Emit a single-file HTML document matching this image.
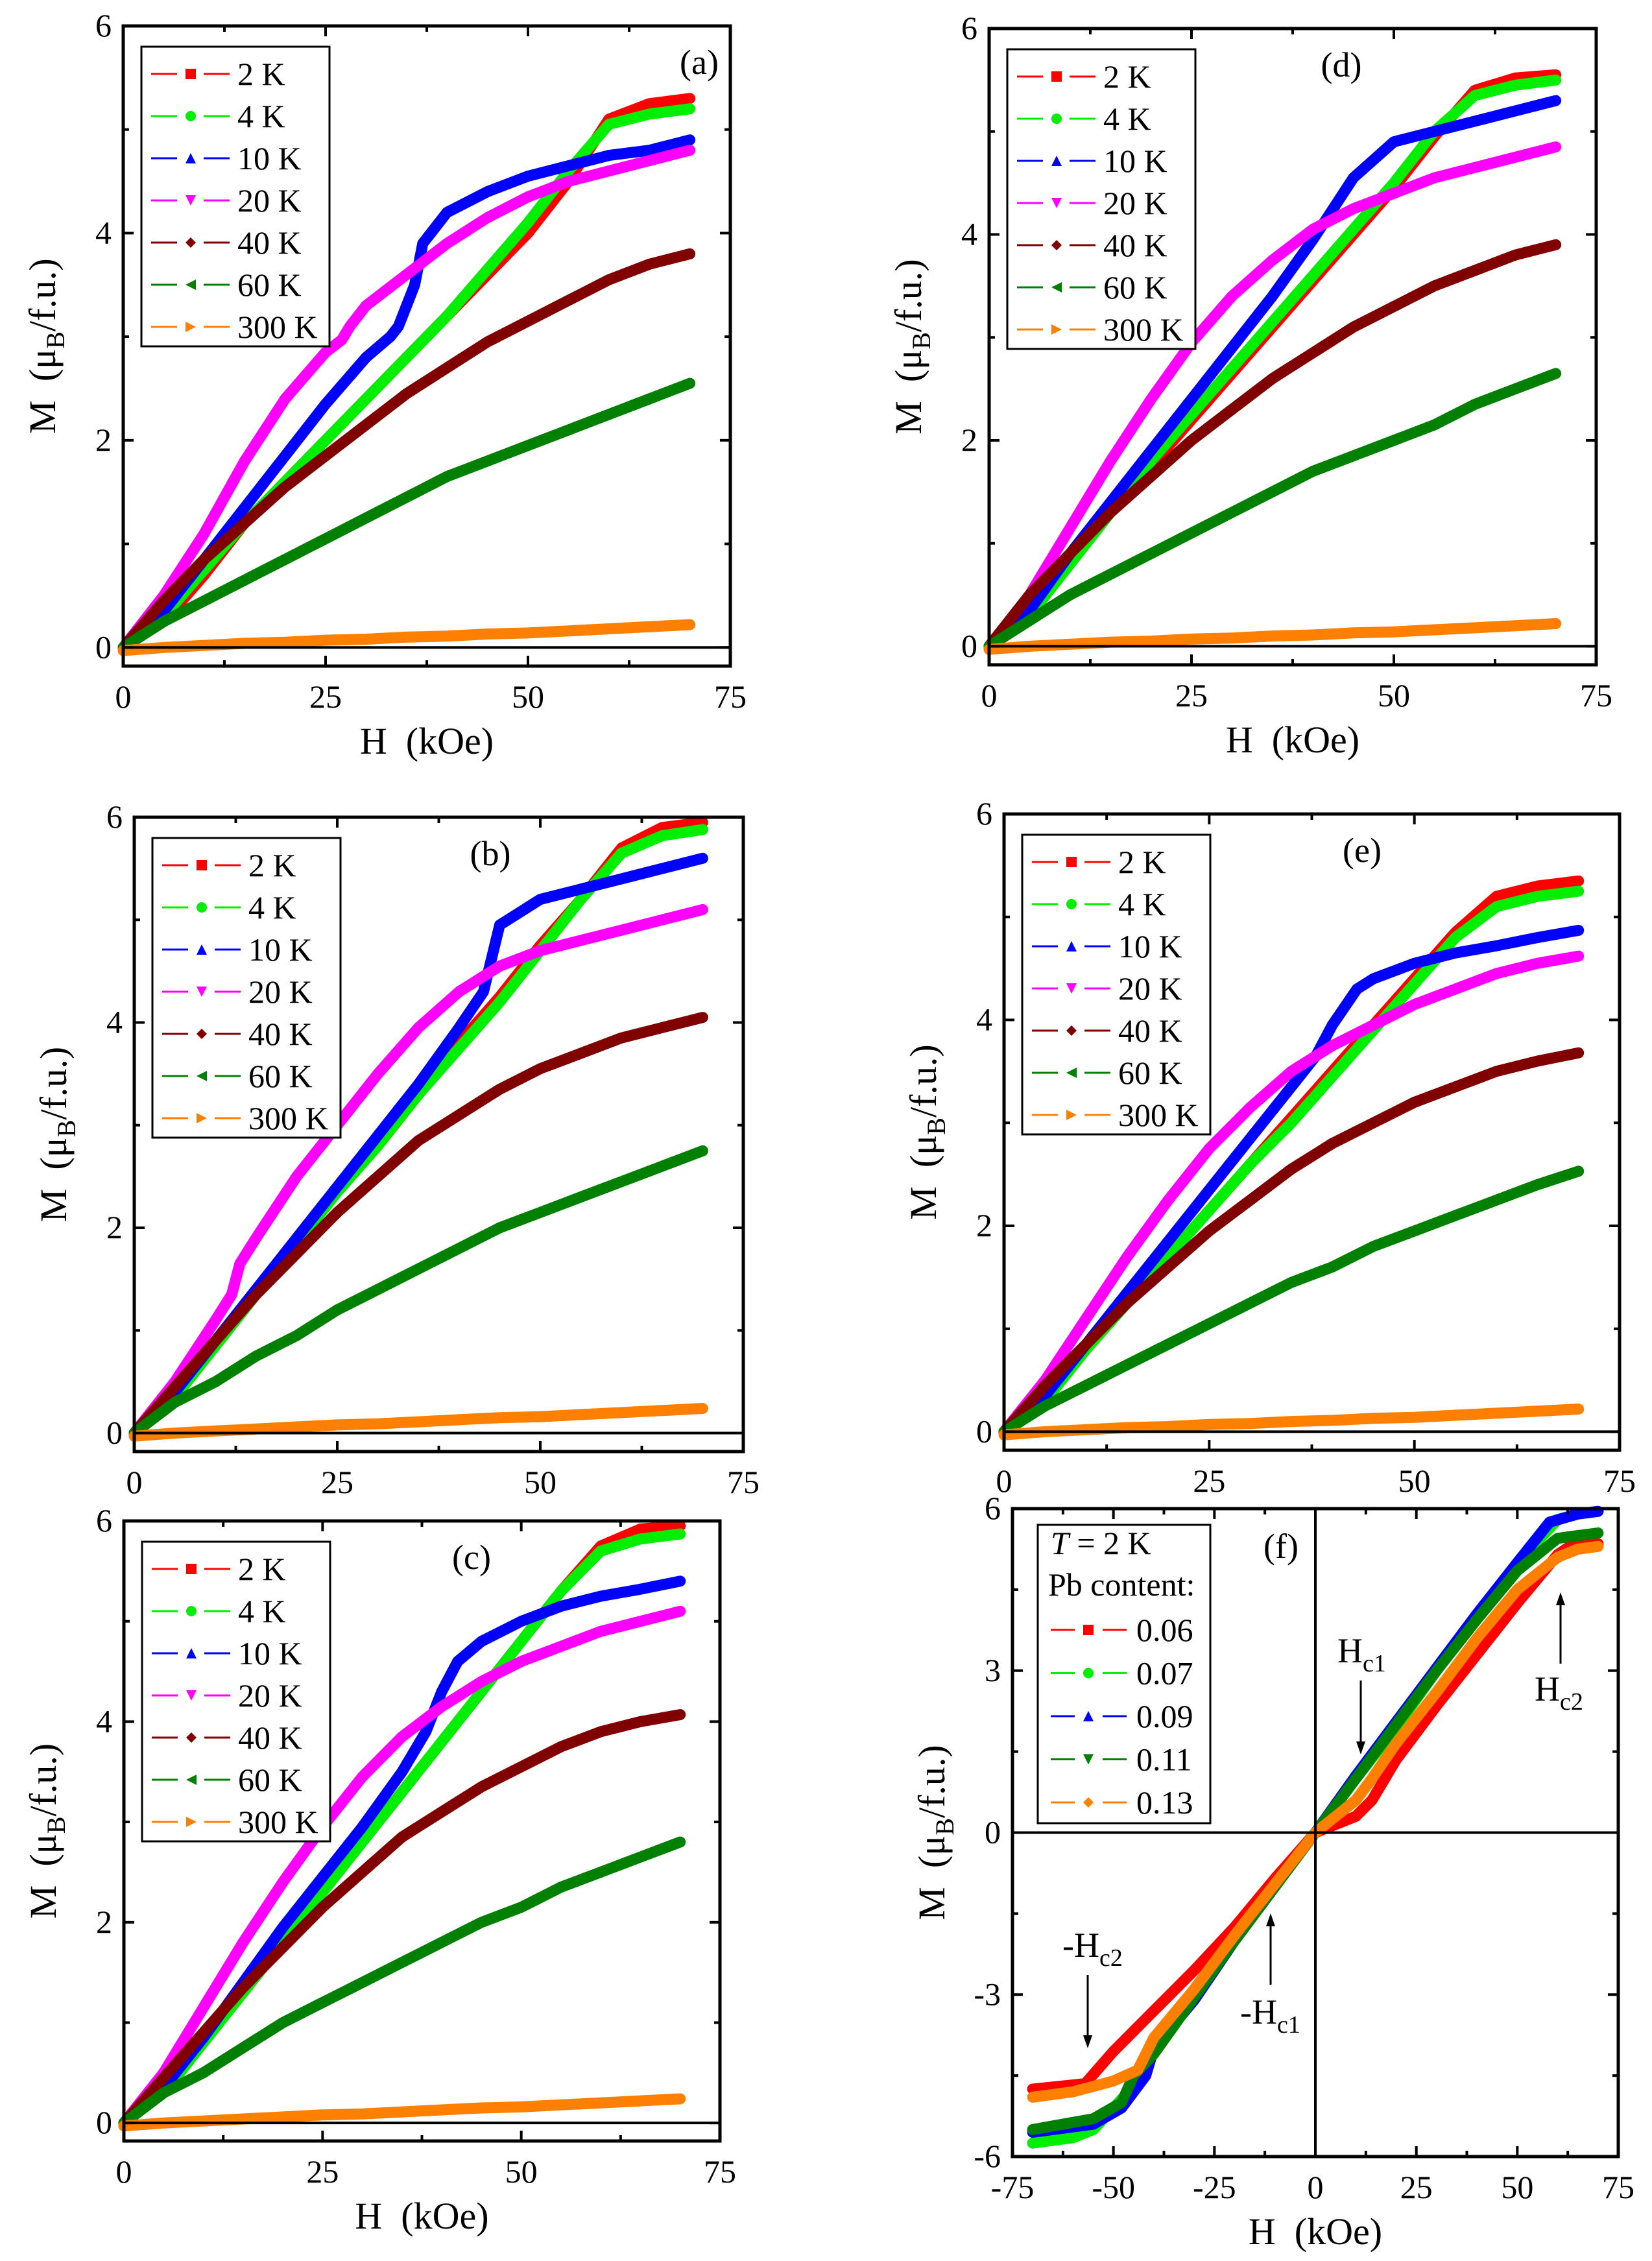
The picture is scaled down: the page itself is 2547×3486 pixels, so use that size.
<!DOCTYPE html>
<html><head><meta charset="utf-8">
<style>
html,body{margin:0;padding:0;background:#fff;}
svg{display:block;}
text{font-family:"Liberation Serif",serif;fill:#000;}
</style></head>
<body>
<svg id="fig" width="2547" height="3486" viewBox="0 0 2547 3486" xmlns="http://www.w3.org/2000/svg">
<rect x="0" y="0" width="2547" height="3486" fill="#fff"/>
</svg>
<script>
// ---------------- data ----------------
const H5 = [0,5,10,15,20,25,30,35,40,45,50,55,60,65,70];
const tempLabels = ["2 K","4 K","10 K","20 K","40 K","60 K","300 K"];
const pbLabels = ["0.06","0.07","0.09","0.11","0.13"];
const yTicksA = [0,2,4,6];
const xTicksA = [0,25,50,75];
const yTicksF = [-6,-3,0,3,6];
const xTicksF = [-75,-50,-25,0,25,50,75];

// panel (a)
const a2K = [0,0.25,0.7,1.2,1.6,2.0,2.4,2.8,3.2,3.6,4.0,4.5,5.1,5.25,5.3];
const a4K = [0,0.3,0.75,1.2,1.6,2.0,2.4,2.8,3.2,3.65,4.1,4.6,5.05,5.15,5.2];
const a10K_H = [0,5,10,15,20,25,30,33,34,36,37,40,45,50,55,60,65,70];
const a10K = [0,0.35,0.85,1.35,1.85,2.35,2.8,3.0,3.1,3.5,3.9,4.2,4.4,4.55,4.65,4.75,4.8,4.9];
const a20K_H = [0,5,10,15,20,25,27,28,30,35,40,45,50,55,60,65,70];
const a20K = [0,0.5,1.1,1.8,2.4,2.85,2.97,3.1,3.3,3.6,3.9,4.15,4.35,4.5,4.6,4.7,4.8];
const a40K = [0,0.45,0.85,1.2,1.55,1.85,2.15,2.45,2.7,2.95,3.15,3.35,3.55,3.7,3.8];
const a60K = [0,0.25,0.45,0.65,0.85,1.05,1.25,1.45,1.65,1.8,1.95,2.1,2.25,2.4,2.55];
const a300K = [-0.03,0.0,0.02,0.04,0.05,0.07,0.08,0.1,0.11,0.13,0.14,0.16,0.18,0.2,0.22];

// panel (b)
const b2K = [0,0.35,0.85,1.35,1.85,2.35,2.8,3.3,3.8,4.25,4.75,5.2,5.7,5.9,5.95];
const b4K = [0,0.35,0.85,1.35,1.85,2.35,2.8,3.3,3.75,4.2,4.7,5.2,5.65,5.82,5.88];
const b10K_H = [0,5,10,15,20,25,30,35,40,43,45,50,55,60,65,70];
const b10K = [0,0.4,0.9,1.4,1.9,2.4,2.9,3.4,3.95,4.3,4.95,5.2,5.3,5.4,5.5,5.6];
const b20K_H = [0,5,10,12,13,15,20,25,30,35,40,45,50,55,60,65,70];
const b20K = [0,0.5,1.1,1.35,1.65,1.9,2.5,3.0,3.5,3.95,4.3,4.55,4.7,4.8,4.9,5.0,5.1];
const b40K = [0,0.45,0.9,1.35,1.75,2.15,2.5,2.85,3.1,3.35,3.55,3.7,3.85,3.95,4.05];
const b60K = [0,0.3,0.5,0.75,0.95,1.2,1.4,1.6,1.8,2.0,2.15,2.3,2.45,2.6,2.75];
const b300K = [-0.03,0.0,0.02,0.04,0.06,0.08,0.09,0.11,0.13,0.15,0.16,0.18,0.2,0.22,0.24];

// panel (c)
const c2K = [0,0.3,0.8,1.3,1.8,2.3,2.8,3.3,3.8,4.3,4.8,5.3,5.75,5.92,5.95];
const c4K = [0,0.3,0.8,1.3,1.8,2.3,2.8,3.3,3.8,4.3,4.8,5.3,5.7,5.82,5.87];
const c10K_H = [0,5,10,15,20,25,30,35,38,40,42,45,50,55,60,65,70];
const c10K = [0,0.35,0.85,1.4,1.95,2.45,2.95,3.5,3.9,4.3,4.6,4.8,5.0,5.15,5.25,5.32,5.4];
const c20K = [0,0.5,1.15,1.8,2.4,2.95,3.45,3.85,4.15,4.4,4.6,4.75,4.9,5.0,5.1];
const c40K = [0,0.45,0.9,1.35,1.75,2.15,2.5,2.85,3.1,3.35,3.55,3.75,3.9,4.0,4.07];
const c60K = [0,0.3,0.5,0.75,1.0,1.2,1.4,1.6,1.8,2.0,2.15,2.35,2.5,2.65,2.8];
const c300K = [-0.03,0.0,0.02,0.04,0.06,0.08,0.09,0.11,0.13,0.15,0.16,0.18,0.2,0.22,0.24];

// panel (d)
const d2K = [0,0.3,0.8,1.3,1.75,2.2,2.65,3.1,3.55,4.0,4.45,4.95,5.4,5.52,5.55];
const d4K = [0,0.3,0.8,1.3,1.8,2.25,2.7,3.15,3.6,4.05,4.5,5.0,5.35,5.45,5.5];
const d10K = [0,0.35,0.9,1.4,1.9,2.4,2.9,3.4,3.95,4.55,4.9,5.0,5.1,5.2,5.3];
const d20K = [0,0.5,1.15,1.8,2.4,2.95,3.4,3.75,4.05,4.25,4.4,4.55,4.65,4.75,4.85];
const d40K = [0,0.5,0.9,1.3,1.65,2.0,2.3,2.6,2.85,3.1,3.3,3.5,3.65,3.8,3.9];
const d60K = [0,0.25,0.5,0.7,0.9,1.1,1.3,1.5,1.7,1.85,2.0,2.15,2.35,2.5,2.65];
const d300K = [-0.03,0.0,0.02,0.04,0.05,0.07,0.08,0.1,0.11,0.13,0.14,0.16,0.18,0.2,0.22];

// panel (e)
const e2K = [0,0.3,0.8,1.25,1.7,2.15,2.6,3.05,3.5,3.95,4.4,4.85,5.2,5.3,5.35];
const e4K = [0,0.3,0.8,1.25,1.7,2.15,2.6,3.0,3.45,3.9,4.35,4.8,5.1,5.2,5.25];
const e10K_H = [0,5,10,15,20,25,30,35,38,40,43,45,50,55,60,65,70];
const e10K = [0,0.35,0.85,1.35,1.85,2.35,2.85,3.35,3.65,3.95,4.3,4.4,4.55,4.65,4.72,4.8,4.87];
const e20K = [0,0.5,1.1,1.7,2.25,2.75,3.15,3.5,3.75,3.95,4.15,4.3,4.45,4.55,4.62];
const e40K = [0,0.45,0.85,1.25,1.6,1.95,2.25,2.55,2.8,3.0,3.2,3.35,3.5,3.6,3.68];
const e60K = [0,0.25,0.45,0.65,0.85,1.05,1.25,1.45,1.6,1.8,1.95,2.1,2.25,2.4,2.53];
const e300K = [-0.03,0.0,0.02,0.04,0.05,0.07,0.08,0.1,0.11,0.13,0.14,0.16,0.18,0.2,0.22];

// panel (f)
const f006_H = [-70,-57,-50,-40,-30,-20,-10,0,10,14,20,30,40,50,60,63,70];
const f006 = [-4.75,-4.65,-4.05,-3.3,-2.55,-1.75,-0.85,0,0.3,0.6,1.35,2.35,3.3,4.25,5.15,5.3,5.35];
const f007_H = [-70,-60,-55,-45,-40,-30,-20,-10,0,10,20,30,40,50,60,65,70];
const f007 = [-5.75,-5.65,-5.5,-4.7,-4.05,-3.0,-1.95,-0.95,0,1.0,1.95,3.0,4.0,5.0,5.8,5.9,5.95];
const f009_H = [-70,-55,-48,-42,-40,-30,-20,-10,0,10,20,30,40,50,58,65,70];
const f009 = [-5.55,-5.4,-5.1,-4.5,-4.0,-3.1,-2.0,-1.0,0,1.05,2.05,3.05,4.05,5.0,5.75,5.9,5.95];
const f011_H = [-70,-55,-48,-45,-40,-30,-20,-10,0,10,20,30,40,50,60,65,70];
const f011 = [-5.5,-5.3,-5.0,-4.5,-4.1,-3.05,-2.0,-1.0,0,1.0,2.0,3.0,3.95,4.85,5.45,5.5,5.55];
const f013_H = [-70,-60,-50,-44,-42,-40,-30,-20,-10,0,10,14,20,30,40,50,60,65,70];
const f013 = [-4.9,-4.8,-4.6,-4.4,-4.1,-3.8,-2.9,-1.9,-0.95,0,0.6,1.0,1.65,2.6,3.6,4.5,5.1,5.25,5.3];

// ---------------- drawing ----------------
const NS = "http://www.w3.org/2000/svg";
const fig = document.getElementById("fig");
const colors = ["#ff0000","#00ee00","#0000ff","#ff00ff","#800000","#008000","#ff8000"];
const colorsF = ["#ff0000","#00ee00","#0000ff","#008000","#ff8000"];
const markers = ["square","circle","tri-up","tri-down","diamond","tri-left","tri-right"];
const markersF = ["square","circle","tri-up","tri-down","diamond"];

function mk(tag, attrs, parent){
  const e = document.createElementNS(NS, tag);
  for (const k in attrs) e.setAttribute(k, attrs[k]);
  (parent||fig).appendChild(e);
  return e;
}
function markerShape(g, type, cx, cy, r, col){
  let el;
  if (type==="square") el = mk("rect",{x:cx-r,y:cy-r,width:2*r,height:2*r,fill:col},g);
  else if (type==="circle") el = mk("circle",{cx:cx,cy:cy,r:r,fill:col},g);
  else {
    let p;
    if (type==="tri-up") p=[[cx,cy-r],[cx+r,cy+r],[cx-r,cy+r]];
    if (type==="tri-down") p=[[cx-r,cy-r],[cx+r,cy-r],[cx,cy+r]];
    if (type==="tri-left") p=[[cx-r,cy],[cx+r,cy-r],[cx+r,cy+r]];
    if (type==="tri-right") p=[[cx+r,cy],[cx-r,cy-r],[cx-r,cy+r]];
    if (type==="diamond") p=[[cx,cy-r],[cx+r,cy],[cx,cy+r],[cx-r,cy]];
    el = mk("polygon",{points:p.map(q=>q.join(",")).join(" "),fill:col},g);
  }
  
  
}

function drawPanel(cfg){
  const g = mk("g",{});
  
  
  const sx = v => cfg.L + (v-cfg.xmin)/(cfg.xmax-cfg.xmin)*(cfg.R-cfg.L);
  const sy = v => cfg.B - (v-cfg.ymin)/(cfg.ymax-cfg.ymin)*(cfg.B-cfg.T);
  cfg.series.forEach((s,i)=>{
    const pts = s.h.map((h,k)=>sx(h).toFixed(1)+","+sy(s.m[k]).toFixed(1)).join(" ");
    const pl = mk("polyline",{points:pts,fill:"none",stroke:s.color,"stroke-width":17,"stroke-linejoin":"round","stroke-linecap":"round"},g);
    
    
  });
  const zl = mk("line",{x1:cfg.L,x2:cfg.R,y1:sy(0),y2:sy(0),stroke:"#000","stroke-width":4},g);
  
  
  if (cfg.xmin<0){
    const zv = mk("line",{x1:sx(0),x2:sx(0),y1:cfg.T,y2:cfg.B,stroke:"#000","stroke-width":4},g);
    
    
  }
  const fr = mk("rect",{x:cfg.L,y:cfg.T,width:cfg.R-cfg.L,height:cfg.B-cfg.T,fill:"none",stroke:"#000","stroke-width":5},g);
  
  
  const xt = cfg.xticks, yt = cfg.yticks;
  const xstep = xt[1]-xt[0], ystep = yt[1]-yt[0];
  for (let v=xt[0]; v<=xt[xt.length-1]+1e-9; v+=xstep/2){
    const major = Math.abs(((v-xt[0])/xstep)-Math.round((v-xt[0])/xstep))<1e-6;
    const len = major?16:9, x=sx(v);
    mk("line",{x1:x,x2:x,y1:cfg.B,y2:cfg.B-len,stroke:"#000","stroke-width":4},g);
    mk("line",{x1:x,x2:x,y1:cfg.T,y2:cfg.T+len,stroke:"#000","stroke-width":4},g);
  }
  for (let v=yt[0]; v<=yt[yt.length-1]+1e-9; v+=ystep/2){
    const major = Math.abs(((v-yt[0])/ystep)-Math.round((v-yt[0])/ystep))<1e-6;
    const len = major?16:9, y=sy(v);
    mk("line",{x1:cfg.L,x2:cfg.L+len,y1:y,y2:y,stroke:"#000","stroke-width":4},g);
    mk("line",{x1:cfg.R,x2:cfg.R-len,y1:y,y2:y,stroke:"#000","stroke-width":4},g);
  }
  xt.forEach(v=>{
    const t = mk("text",{x:sx(v),y:cfg.B+64,"font-size":50,"text-anchor":"middle"},g);
    t.textContent = String(v);
    
    
  });
  yt.forEach(v=>{
    const t = mk("text",{x:cfg.L-18,y:sy(v)+16,"font-size":50,"text-anchor":"end"},g);
    t.textContent = String(v);
    
    
  });
  if (cfg.xtitle){
    const t = mk("text",{x:(cfg.L+cfg.R)/2,y:cfg.B+135,"font-size":58,"text-anchor":"middle","xml:space":"preserve"},g);
    t.textContent = "H\u00a0\u00a0(kOe)";
    
    
  }
  const yc = (cfg.T+cfg.B)/2, xc = cfg.L-105;
  const yt2 = mk("text",{x:xc,y:yc,"font-size":58,"text-anchor":"middle",transform:`rotate(-90 ${xc} ${yc})`},g);
  
  
  yt2.innerHTML = 'M\u00a0\u00a0(μ<tspan font-size="40" dy="14">B</tspan><tspan dy="-14">/f.u.)</tspan>';
  const pl = mk("text",{x:cfg.labX,y:cfg.labY,"font-size":54,"text-anchor":"middle"},g);
  pl.textContent = "(" + cfg.id + ")";
  
  
  return g;
}

function drawLegend(g, bx, by, w, h, rowY0, rowDy, labels, cols, mks){
  const lg = mk("g",{},g);
  
  
  mk("rect",{x:bx,y:by,width:w,height:h,fill:"#fff",stroke:"#000","stroke-width":3},lg);
  labels.forEach((lab,i)=>{
    const y = rowY0 + i*rowDy;
    const e = mk("g",{},lg);
    
    
    mk("line",{x1:bx+15,x2:bx+55,y1:y,y2:y,stroke:cols[i],"stroke-width":3},e);
    mk("line",{x1:bx+96,x2:bx+136,y1:y,y2:y,stroke:cols[i],"stroke-width":3},e);
    markerShape(e, mks[i], bx+76, y, 8, cols[i]);
    const t = mk("text",{x:bx+148,y:y+17,"font-size":50},e);
    t.textContent = lab;
  });
}

const panelsCfg = [
  {id:"a",L:190,R:1126,T:40,B:1027,lab:1078,series:[[H5,a2K],[H5,a4K],[a10K_H,a10K],[a20K_H,a20K],[H5,a40K],[H5,a60K],[H5,a300K]],xtitle:true},
  {id:"d",L:1525,R:2461,T:44,B:1025,lab:2068,series:[[H5,d2K],[H5,d4K],[H5,d10K],[H5,d20K],[H5,d40K],[H5,d60K],[H5,d300K]],xtitle:true},
  {id:"b",L:207,R:1146,T:1260,B:2238,lab:756,series:[[H5,b2K],[H5,b4K],[b10K_H,b10K],[b20K_H,b20K],[H5,b40K],[H5,b60K],[H5,b300K]],xtitle:false},
  {id:"e",L:1548,R:2497,T:1255,B:2236,lab:2100,series:[[H5,e2K],[H5,e4K],[e10K_H,e10K],[H5,e20K],[H5,e40K],[H5,e60K],[H5,e300K]],xtitle:false},
  {id:"c",L:191,R:1110,T:2345,B:3301,lab:727,series:[[H5,c2K],[H5,c4K],[c10K_H,c10K],[H5,c20K],[H5,c40K],[H5,c60K],[H5,c300K]],xtitle:true}
];
panelsCfg.forEach(p=>{
  const cfg = {id:p.id,L:p.L,R:p.R,T:p.T,B:p.B,xmin:0,xmax:75,ymin:-0.18,ymax:6,
    xticks:xTicksA,yticks:yTicksA,xtitle:p.xtitle,
    labX:p.lab,labY:p.T+74,
    series:p.series.map((s,i)=>({h:s[0],m:s[1],color:colors[i],name:p.id+"-"+tempLabels[i].replace(" ","")}))};
  const g = drawPanel(cfg);
  const bx = p.L+28, by = p.T+32;
  drawLegend(g, bx, by, 290, 462, by+42, 65, tempLabels, colors, markers);
});

// panel f
const fCfg = {id:"f",L:1561,R:2495,T:2326,B:3325,xmin:-75,xmax:75,ymin:-6,ymax:6,
  xticks:xTicksF,yticks:yTicksF,xtitle:true,labX:1975,labY:2402,
  series:[[f006_H,f006],[f007_H,f007],[f009_H,f009],[f011_H,f011],[f013_H,f013]].map((s,i)=>({h:s[0],m:s[1],color:colorsF[i],name:"pb-"+pbLabels[i]}))};
const gf = drawPanel(fCfg);
(function(){
  const bx=1600, by=2351;
  const lg = mk("g",{},gf);
  
  
  mk("rect",{x:bx,y:by,width:266,height:460,fill:"#fff",stroke:"#000","stroke-width":3},lg);
  const t1 = mk("text",{x:bx+20,y:2396,"font-size":50},lg);
  t1.innerHTML = '<tspan font-style="italic">T</tspan> = 2 K';
  
  
  const t2 = mk("text",{x:bx+16,y:2460,"font-size":50},lg);
  t2.textContent = "Pb content:";
  
  
  pbLabels.forEach((lab,i)=>{
    const y = 2513 + i*66.5;
    const e = mk("g",{},lg);
    
    
    mk("line",{x1:1620,x2:1657,y1:y,y2:y,stroke:colorsF[i],"stroke-width":3},e);
    mk("line",{x1:1700,x2:1737,y1:y,y2:y,stroke:colorsF[i],"stroke-width":3},e);
    markerShape(e, markersF[i], 1678, y, 8, colorsF[i]);
    const t = mk("text",{x:1752,y:y+17,"font-size":50},e);
    t.textContent = lab;
  });
})();
function arrow(x, y1, y2, name){
  const g = mk("g",{},gf);
  
  
  const dir = y2>y1?1:-1;
  mk("line",{x1:x,x2:x,y1:y1,y2:y2-dir*14,stroke:"#000","stroke-width":3},g);
  mk("polygon",{points:`${x-7},${y2-dir*20} ${x+7},${y2-dir*20} ${x},${y2}`,fill:"#000"},g);
}
function annot(x,y,main,sub,name){
  const t = mk("text",{x:x,y:y,"font-size":54},gf);
  t.innerHTML = main + '<tspan font-size="38" dy="14">' + sub + '</tspan>';
  
  
}
annot(2062,2563,"H","c1","hc1-label");
arrow(2098,2591,2705,"hc1-arrow");
annot(2366,2622,"H","c2","hc2-label");
arrow(2406,2565,2455,"hc2-arrow");
annot(1638,3017,"-H","c2","neg-hc2-label");
arrow(1677,3045,3158,"neg-hc2-arrow");
annot(1912,3120,"-H","c1","neg-hc1-label");
arrow(1959,3060,2950,"neg-hc1-arrow");
</script>
</body></html>
